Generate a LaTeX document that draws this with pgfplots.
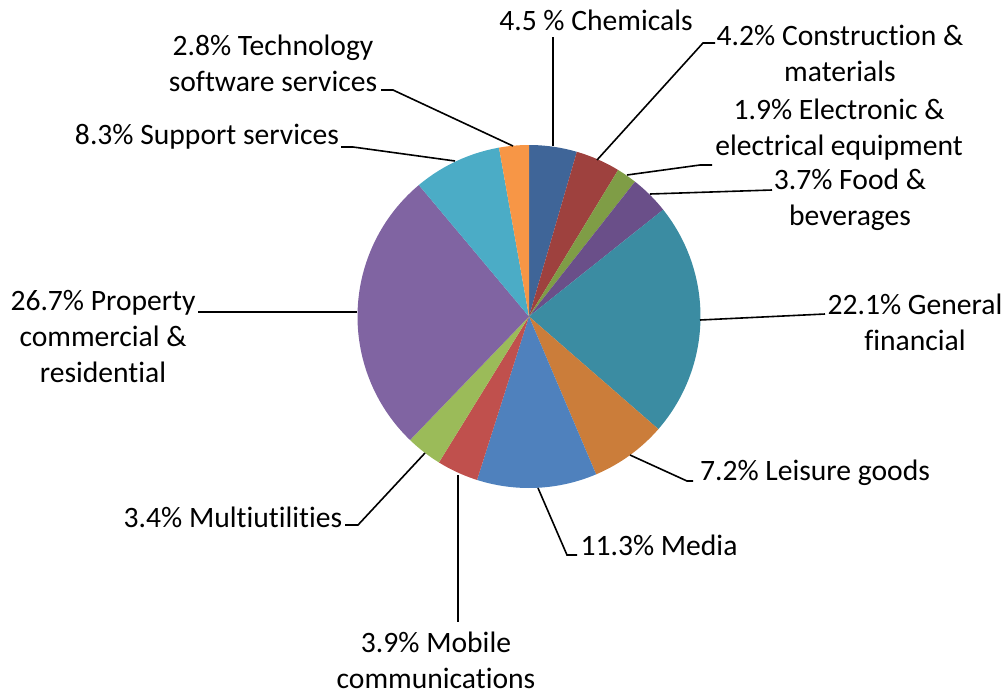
\documentclass[border=0pt]{standalone}
\usepackage{fontspec}
\setmainfont{Carlito}[Ligatures=NoCommon]
\usepackage{pgfplots}
\pgfplotsset{compat=1.18}
\definecolor{cChem}{HTML}{3F6598}
\definecolor{cCons}{HTML}{9E413E}
\definecolor{cElec}{HTML}{7F9D46}
\definecolor{cFood}{HTML}{6A4F89}
\definecolor{cGen}{HTML}{3B8CA2}
\definecolor{cLeis}{HTML}{CB7D3A}
\definecolor{cMedia}{HTML}{4F81BD}
\definecolor{cMob}{HTML}{C0504D}
\definecolor{cMulti}{HTML}{9BBB59}
\definecolor{cProp}{HTML}{8064A2}
\definecolor{cSupp}{HTML}{4BACC6}
\definecolor{cTech}{HTML}{F79646}
\tikzset{lbl/.style={font=\fontsize{14.8}{18}\selectfont, align=center, inner sep=0pt}}
\pgfplotsset{leader/.style={black, line width=0.8pt, mark=none, solid}}
% wedge: #1 cumulative start (%), #2 value (%), #3 colour
\newcommand\pieslice[3]{%
  \addplot[draw=none, fill=#3, mark=none, samples=80, domain={90-3.6*(#1+#2)}:{90-3.6*(#1)}]
    ({529+171.5*cos(x)},{376.5+171.5*sin(x)}) -- (axis cs:529,376.5) -- cycle;
}
\begin{document}
\begin{tikzpicture}
\useasboundingbox (0,0) rectangle (504pt,346.5pt);
\begin{axis}[
  scale only axis, width=504pt, height=346.5pt,
  xmin=0, xmax=1008, ymin=0, ymax=693,
  hide axis, clip=false,
]
% values: Chemicals 4.5, Construction 4.2, Electronic 1.9, Food 3.7,
% General financial 22.1, Leisure 7.2, Media 11.3, Mobile 3.9,
% Multiutilities 3.4, Property 26.7, Support 8.3, Technology 2.8
\pieslice{0}{4.5}{cChem}
\pieslice{4.5}{4.2}{cCons}
\pieslice{8.7}{1.9}{cElec}
\pieslice{10.6}{3.7}{cFood}
\pieslice{14.3}{22.1}{cGen}
\pieslice{36.4}{7.2}{cLeis}
\pieslice{43.6}{11.3}{cMedia}
\pieslice{54.9}{3.9}{cMob}
\pieslice{58.8}{3.4}{cMulti}
\pieslice{62.2}{26.7}{cProp}
\pieslice{88.9}{8.3}{cSupp}
\pieslice{97.2}{2.8}{cTech}
% leader lines
\addplot[leader] coordinates {(553,547) (553,656)};
\addplot[leader] coordinates {(597,533) (703,650) (715,650)};
\addplot[leader] coordinates {(627,518) (700,528) (712,528)};
\addplot[leader] coordinates {(650,499) (772,503)};
\addplot[leader] coordinates {(700,373) (825,379)};
\addplot[leader] coordinates {(630,238) (687,212) (693,212)};
\addplot[leader] coordinates {(538,205) (567,138) (577,138)};
\addplot[leader] coordinates {(458,218) (458,71)};
\addplot[leader] coordinates {(425,240) (358,168) (345,168)};
\addplot[leader] coordinates {(357,381) (198,381)};
\addplot[leader] coordinates {(455,532) (353,546) (341,546)};
\addplot[leader] coordinates {(513,547) (393,603) (381,603)};
% labels
\node[lbl] at (axis cs:596,673) {4.5 \% Chemicals};
\node[lbl] at (axis cs:840,640) {4.2\% Construction \&\\materials};
\node[lbl] at (axis cs:839,563) {1.9\% Electronic \&\\electrical equipment};
\node[lbl] at (axis cs:850,493) {3.7\% Food \&\\beverages};
\node[lbl] at (axis cs:915,371) {22.1\% General\\financial};
\node[lbl] at (axis cs:815,220) {7.2\% Leisure goods};
\node[lbl] at (axis cs:659,148) {11.3\% Media};
\node[lbl] at (axis cs:436,33) {3.9\% Mobile\\communications};
\node[lbl] at (axis cs:233,176) {3.4\% Multiutilities};
\node[lbl] at (axis cs:103,356) {26.7\% Property\\commercial \&\\residential};
\node[lbl] at (axis cs:207,556) {8.3\% Support services};
\node[lbl] at (axis cs:273,630) {2.8\% Technology\\software services};
\end{axis}
\end{tikzpicture}
\end{document}
